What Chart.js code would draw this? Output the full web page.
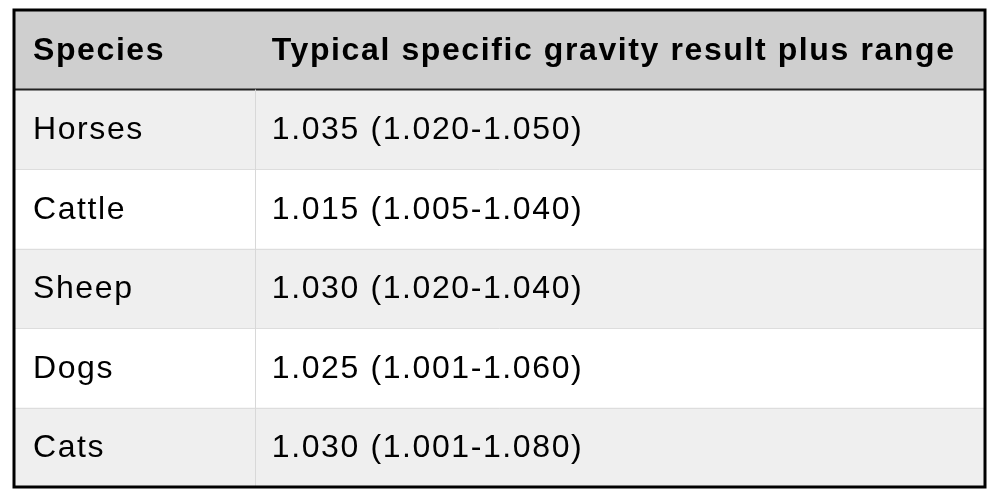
<!DOCTYPE html>
<html lang="en">
<head>
    <meta charset="UTF-8">
    <title>Specific gravity by species</title>
    <script src="https://cdn.jsdelivr.net/npm/chart.js"></script>
    <style>
        body { margin: 0; background: #fff; }
        canvas { display: block; }
    </style>
</head>
<body>
    <canvas id="tableChart" width="1000" height="501"></canvas>

    <script>
        // Table data
        const headers = ['Species', 'Typical specific gravity result plus range'];
        const species = ['Horses', 'Cattle', 'Sheep', 'Dogs', 'Cats'];
        const typical = ['1.035', '1.015', '1.030', '1.025', '1.030'];
        const rangeLow = ['1.020', '1.005', '1.020', '1.001', '1.001'];
        const rangeHigh = ['1.050', '1.040', '1.040', '1.060', '1.080'];

        const rowLabels = ['header'].concat(species);
        const FONT = '"Liberation Sans", Arial, Helvetica, sans-serif';

        // Draws the table cells on the category scale
        const tablePlugin = {
            id: 'tableCells',
            beforeDraw(chart) {
                const { ctx, scales: { x, y } } = chart;
                const left = x.getPixelForValue(0);
                const right = x.getPixelForValue(1);
                const divider = x.getPixelForValue(0.248);
                const band = y.getPixelForValue(1) - y.getPixelForValue(0);
                const top = y.getPixelForValue(0) - band / 2;
                const bottom = y.getPixelForValue(rowLabels.length - 1) + band / 2;

                ctx.save();
                ctx.letterSpacing = '1.6px';
                rowLabels.forEach((label, i) => {
                    const cy = y.getPixelForValue(i);
                    const y0 = cy - band / 2;
                    ctx.fillStyle = i === 0 ? '#cfcfcf' : (i % 2 === 1 ? '#efefef' : '#ffffff');
                    ctx.fillRect(left, y0, right - left, band);

                    ctx.fillStyle = '#000';
                    ctx.textBaseline = 'middle';
                    ctx.textAlign = 'left';
                    if (i === 0) {
                        ctx.font = 'bold 32px ' + FONT;
                        ctx.fillText(headers[0], left + 19, cy + 1);
                        ctx.fillText(headers[1], divider + 17, cy + 1);
                    } else {
                        const k = i - 1;
                        ctx.font = '32px ' + FONT;
                        ctx.fillText(species[k], left + 19, cy + 1);
                        ctx.fillText(typical[k] + ' (' + rangeLow[k] + '-' + rangeHigh[k] + ')', divider + 17, cy + 1);
                    }
                    if (i > 1) {
                        ctx.strokeStyle = '#dddddd';
                        ctx.lineWidth = 1;
                        ctx.beginPath();
                        ctx.moveTo(left, Math.round(y0) + 0.5);
                        ctx.lineTo(right, Math.round(y0) + 0.5);
                        ctx.stroke();
                    }
                });
                ctx.restore();

                // header bottom line and column divider
                ctx.strokeStyle = '#222';
                ctx.lineWidth = 2;
                ctx.beginPath();
                ctx.moveTo(left, top + band);
                ctx.lineTo(right, top + band);
                ctx.stroke();
                ctx.strokeStyle = '#d8d8d8';
                ctx.lineWidth = 1;
                ctx.beginPath();
                ctx.moveTo(Math.round(divider) + 0.5, top + band);
                ctx.lineTo(Math.round(divider) + 0.5, bottom);
                ctx.stroke();

                // outer border
                ctx.strokeStyle = '#000';
                ctx.lineWidth = 3;
                ctx.strokeRect(left, top, right - left, bottom - top);
            }
        };

        new Chart(document.getElementById('tableChart').getContext('2d'), {
            type: 'bar',
            data: {
                labels: rowLabels,
                datasets: [{ data: rowLabels.map(() => 0), backgroundColor: 'transparent' }]
            },
            options: {
                indexAxis: 'y',
                responsive: false,
                animation: false,
                devicePixelRatio: 1,
                layout: { padding: { left: 14, right: 15, top: 10, bottom: 14 } },
                plugins: { legend: { display: false }, tooltip: { enabled: false } },
                scales: {
                    x: { type: 'linear', min: 0, max: 1, display: false },
                    y: { type: 'category', display: false, offset: true }
                }
            },
            plugins: [tablePlugin]
        });
    </script>
</body>
</html>
